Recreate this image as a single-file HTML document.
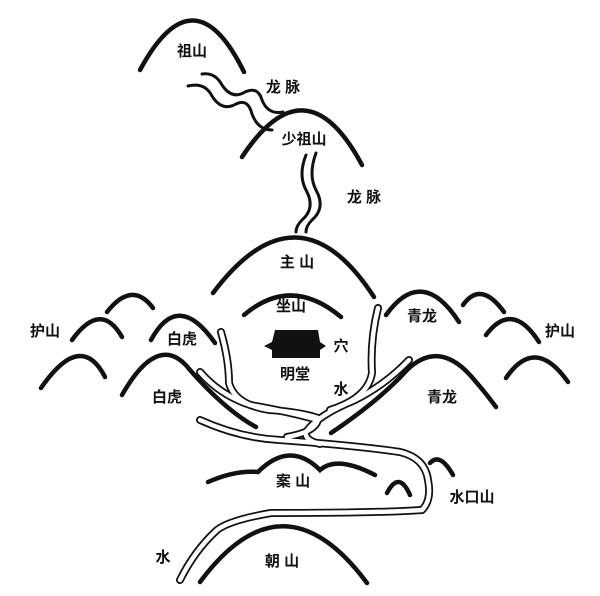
<!DOCTYPE html>
<html><head><meta charset="utf-8"><style>
html,body{margin:0;padding:0;background:#fff}
svg{display:block}
text{font-family:"Liberation Sans","Noto Sans CJK SC",sans-serif;font-size:15px;fill:#111;text-anchor:middle;dominant-baseline:middle;font-weight:bold}
.m{fill:none;stroke:#111;stroke-width:4.5;stroke-linecap:round}
.rb{fill:none;stroke:#111;stroke-width:8;stroke-linecap:round;stroke-linejoin:round}
.rw{fill:none;stroke:#fff;stroke-width:4.5;stroke-linecap:round;stroke-linejoin:round}
.t{fill:none;stroke:#111;stroke-width:3;stroke-linecap:round}
</style></head><body>
<svg width="600" height="596" viewBox="0 0 600 596">
<path class="m" d="M140,70 Q194,-30 244,72"/>
<path class="m" d="M242,157 Q306,60 362,165"/>
<path class="m" d="M213,293 Q298,180 374,297"/>
<path class="m" d="M244,315 Q291,275 341,317"/>
<path class="m" d="M107,312 Q132,280 153,308"/>
<path class="m" d="M72,340 Q101,300 122,337"/>
<path class="m" d="M151,340 Q178,290 215,343"/>
<path class="m" d="M41,388 Q81,330 105,377"/>
<path class="m" d="M122,395 Q159,330 190,370 Q225,410 256,427"/>
<path class="m" d="M386,315 Q422,265 459,322"/>
<path class="m" d="M463,305 Q481,280 504,312"/>
<path class="m" d="M486,335 Q512,300 539,342"/>
<path class="m" d="M331,433 Q380,400 407,370 Q438,340 470,375 Q485,392 496,407"/>
<path class="m" d="M506,378 Q535,335 568,382"/>
<path class="m" d="M208,482 Q235,470 258,472 Q290,440 320,470 Q337,455 375,475"/>
<path class="m" d="M430,463 Q440,452 453,475"/>
<path class="m" d="M387,493 Q399,470 410,495"/>
<path class="m" d="M200,582 Q283,470 367,583"/>
<path class="t" d="M202,74 Q215,72 222,85 Q232,100 245,92 Q258,86 262,100 Q268,115 283,112"/>
<path class="t" d="M188,86 Q205,82 212,96 Q222,112 236,104 Q248,98 252,114 Q258,130 272,130"/>
<path class="t" d="M306,155 Q298,175 306,190 Q316,208 302,220 Q296,226 296,232"/>
<path class="t" d="M316,153 Q308,175 316,190 Q326,208 312,220 Q306,226 306,232"/>
<g>
<path class="rb" d="M221,332 Q229,360 229,383 Q235,405 270,410 Q300,412 318,418"/>
<path class="rb" d="M378,308 Q370,340 372,373 Q368,398 330,410"/>
<path class="rb" d="M200,372 Q220,395 250,405 Q290,412 318,420 Q315,432 287,437"/>
<path class="rb" d="M409,360 Q385,385 355,400 Q318,415 306,432 Q304,440 320,444"/>
<path class="rb" d="M200,420 Q240,438 280,440 Q360,446 400,452 Q425,458 428,480 Q432,500 422,510 Q380,513 271,513 Q230,520 217,530 Q195,550 180,580"/>
<path class="rw" d="M221,332 Q229,360 229,383 Q235,405 270,410 Q300,412 318,418"/>
<path class="rw" d="M378,308 Q370,340 372,373 Q368,398 330,410"/>
<path class="rw" d="M200,372 Q220,395 250,405 Q290,412 318,420 Q315,432 287,437"/>
<path class="rw" d="M409,360 Q385,385 355,400 Q318,415 306,432 Q304,440 320,444"/>
<path class="rw" d="M200,420 Q240,438 280,440 Q360,446 400,452 Q425,458 428,480 Q432,500 422,510 Q380,513 271,513 Q230,520 217,530 Q195,550 180,580"/>
</g>
<path d="M275,330 L318,330 L320,342 L326,346 L320,350 L320,358 L272,358 L272,350 L264,346 L272,342 Z" fill="#111"/>
<text x="192" y="52">祖山</text>
<text x="283" y="88">龙 脉</text>
<text x="304" y="140">少祖山</text>
<text x="364" y="198">龙 脉</text>
<text x="297" y="263">主 山</text>
<text x="291" y="307">坐山</text>
<text x="45" y="332">护山</text>
<text x="560" y="332">护山</text>
<text x="182" y="340">白虎</text>
<text x="167" y="398">白虎</text>
<text x="422" y="317">青龙</text>
<text x="442" y="398">青龙</text>
<text x="341" y="347">穴</text>
<text x="295" y="375">明堂</text>
<text x="341" y="390">水</text>
<text x="293" y="482">案 山</text>
<text x="472" y="498">水口山</text>
<text x="282" y="562">朝 山</text>
<text x="163" y="558">水</text>
</svg>
</body></html>
